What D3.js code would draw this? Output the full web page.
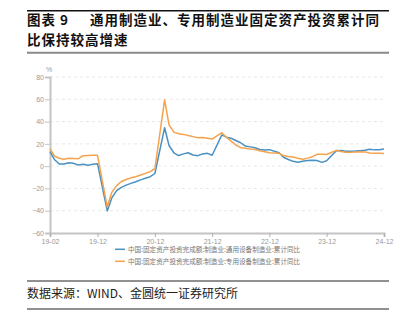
<!DOCTYPE html>
<html>
<head>
<meta charset="utf-8">
<script src="https://cdn.jsdelivr.net/npm/d3@7"></script>
<style>
  html, body { margin: 0; padding: 0; background: #fff; }
  svg { display: block; }
</style>
</head>
<body>
<svg id="chart" width="411" height="323"></svg>
<script>
// Monthly cumulative YoY growth (%), Jan–Feb reported together, so no January points
const months = [
  "2019-02","2019-03","2019-04","2019-05","2019-06","2019-07","2019-08","2019-09","2019-10","2019-11","2019-12",
  "2020-02","2020-03","2020-04","2020-05","2020-06","2020-07","2020-08","2020-09","2020-10","2020-11","2020-12",
  "2021-02","2021-03","2021-04","2021-05","2021-06","2021-07","2021-08","2021-09","2021-10","2021-11","2021-12",
  "2022-02","2022-03","2022-04","2022-05","2022-06","2022-07","2022-08","2022-09","2022-10","2022-11","2022-12",
  "2023-02","2023-03","2023-04","2023-05","2023-06","2023-07","2023-08","2023-09","2023-10","2023-11","2023-12",
  "2024-02","2024-03","2024-04","2024-05","2024-06","2024-07","2024-08","2024-09","2024-10","2024-11","2024-12"
];

// 通用设备制造业
const generalEquip = [
  13.1, 6.0, 1.9, 1.9, 3.1, 2.5, 1.0, 1.6, 0.8, 1.6, 2.2,
  -40.2, -28.5, -22.0, -19.0, -17.0, -15.5, -14.0, -12.3, -10.8, -9.5, -6.6,
  34.5, 18.5, 12.0, 9.5, 11.0, 12.0, 10.0, 9.4, 11.0, 11.5, 9.8,
  28.0, 26.0, 25.0, 23.0, 21.0, 18.0, 17.3, 16.5, 15.0, 14.5, 14.8,
  12.0, 8.0, 6.0, 4.3, 3.4, 4.3, 5.0, 5.3, 5.0, 3.4, 4.8,
  13.9, 14.0, 13.3, 13.4, 13.6, 13.9, 14.3, 15.1, 14.6, 14.8, 15.4
];

// 专用设备制造业
const specialEquip = [
  15.6, 9.1, 7.0, 6.2, 7.0, 6.9, 6.7, 9.4, 9.6, 9.7, 9.7,
  -36.6, -23.5, -17.5, -13.8, -12.0, -10.5, -9.5, -8.0, -6.5, -5.0, -2.3,
  59.5, 37.0, 30.5, 29.0, 28.5, 27.5, 26.5, 25.5, 25.8, 25.0, 24.3,
  30.0, 26.0, 22.5, 19.0, 16.6, 16.0, 15.4, 15.0, 13.8, 13.0, 12.1,
  11.6, 9.5, 8.6, 8.2, 7.0, 6.2, 7.2, 8.5, 10.6, 10.6, 10.4,
  14.2, 13.2, 12.5, 12.4, 12.6, 13.0, 12.8, 11.8, 11.5, 11.5, 11.4
];

const xTickLabels = ["2019-02","2019-12","2020-12","2021-12","2022-12","2023-12","2024-12"];
const yTicks = [80, 60, 40, 20, 0, -20, -40, -60];

const seriesNames = [
  "中国:固定资产投资完成额:制造业:通用设备制造业:累计同比",
  "中国:固定资产投资完成额:制造业:专用设备制造业:累计同比"
];
const seriesColors = ["#4a90c2", "#f5a24c"];

const titleLabel = "图表 9";
const titleLine1 = "通用制造业、专用制造业固定资产投资累计同";
const titleLine2 = "比保持较高增速";
const sourceText = "数据来源：WIND、金圆统一证券研究所";

const svg = d3.select("#chart");
const cjk = "'Noto Sans CJK SC', 'Noto Sans', sans-serif";
const parse = d3.timeParse("%Y-%m");

// ---- header ----
svg.append("line").attr("x1", 27).attr("x2", 389).attr("y1", 10.7).attr("y2", 10.7)
  .attr("stroke", "#111").attr("stroke-width", 1.4);
const titleStyle = sel => sel
  .attr("font-family", cjk).attr("font-weight", "bold").attr("font-size", 13.5)
  .attr("letter-spacing", 1).attr("fill", "#111");
svg.append("text").attr("x", 27).attr("y", 25).text(titleLabel).call(titleStyle);
svg.append("text").attr("x", 90).attr("y", 25).text(titleLine1).call(titleStyle);
svg.append("text").attr("x", 27).attr("y", 44.8).text(titleLine2).call(titleStyle);
svg.append("line").attr("x1", 27).attr("x2", 389).attr("y1", 52.8).attr("y2", 52.8)
  .attr("stroke", "#8a8a8a").attr("stroke-width", 2);

// ---- scales ----
const x = d3.scaleTime()
  .domain([parse(months[0]), parse(months[months.length - 1])])
  .range([50, 384]);
const y = d3.scaleLinear().domain([-60, 80]).range([233, 77]);

// grid
svg.append("g").selectAll("line")
  .data(yTicks.filter(t => t !== -60))
  .join("line")
  .attr("x1", 50).attr("x2", 384)
  .attr("y1", d => y(d)).attr("y2", d => y(d))
  .attr("stroke", "#e2e2e2").attr("stroke-width", 0.8).attr("stroke-dasharray", "3,3");

// y axis
const yAxis = svg.append("g").attr("transform", "translate(50,0)")
  .call(d3.axisLeft(y).tickValues(yTicks).tickSize(5).tickPadding(1).tickFormat(d3.format("d")));
yAxis.select(".domain").attr("stroke", "#c4c4c4").attr("stroke-width", 2);
yAxis.selectAll(".tick line").attr("stroke", "#c4c4c4");
yAxis.selectAll(".tick text").attr("fill", "#999").attr("font-size", 7)
  .attr("font-family", "'Liberation Sans', Arial, sans-serif");

svg.append("text").attr("x", 49).attr("y", 72).text("%")
  .attr("text-anchor", "middle").attr("fill", "#999").attr("font-size", 7)
  .attr("font-family", "'Liberation Sans', Arial, sans-serif");

// x axis
const xAxis = svg.append("g").attr("transform", "translate(0,233)")
  .call(d3.axisBottom(x).tickValues(xTickLabels.map(parse)).tickSize(4).tickPadding(2)
    .tickFormat(d3.timeFormat("%y-%m")));
xAxis.select(".domain").attr("stroke", "#c4c4c4").attr("stroke-width", 2);
xAxis.selectAll(".tick line").attr("stroke", "#b0b0b0");
xAxis.selectAll(".tick text").attr("fill", "#999").attr("font-size", 7)
  .attr("font-family", "'Liberation Sans', Arial, sans-serif");

// ---- lines ----
const line = d3.line()
  .x((d, i) => x(parse(months[i])))
  .y(d => y(d));

[generalEquip, specialEquip].forEach((vals, k) => {
  svg.append("path").datum(vals)
    .attr("fill", "none")
    .attr("stroke", seriesColors[k])
    .attr("stroke-width", 1.5)
    .attr("stroke-linejoin", "round")
    .attr("d", line);
});

// ---- legend ----
const legend = svg.append("g");
seriesNames.forEach((name, k) => {
  const ly = 249.3 + k * 12;
  legend.append("line").attr("x1", 115).attr("x2", 125).attr("y1", ly).attr("y2", ly)
    .attr("stroke", seriesColors[k]).attr("stroke-width", 1.5);
  legend.append("text").attr("x", 128).attr("y", ly + 2.3).text(name)
    .attr("font-family", cjk).attr("font-size", 6.6).attr("fill", "#777");
});

// ---- source ----
svg.append("line").attr("x1", 27).attr("x2", 389).attr("y1", 281).attr("y2", 281)
  .attr("stroke", "#222").attr("stroke-width", 1);
svg.append("text").attr("x", 27).attr("y", 298).text(sourceText)
  .attr("font-family", cjk).attr("font-size", 12).attr("fill", "#222");
svg.append("line").attr("x1", 27).attr("x2", 389).attr("y1", 309).attr("y2", 309)
  .attr("stroke", "#222").attr("stroke-width", 1);
</script>
</body>
</html>
